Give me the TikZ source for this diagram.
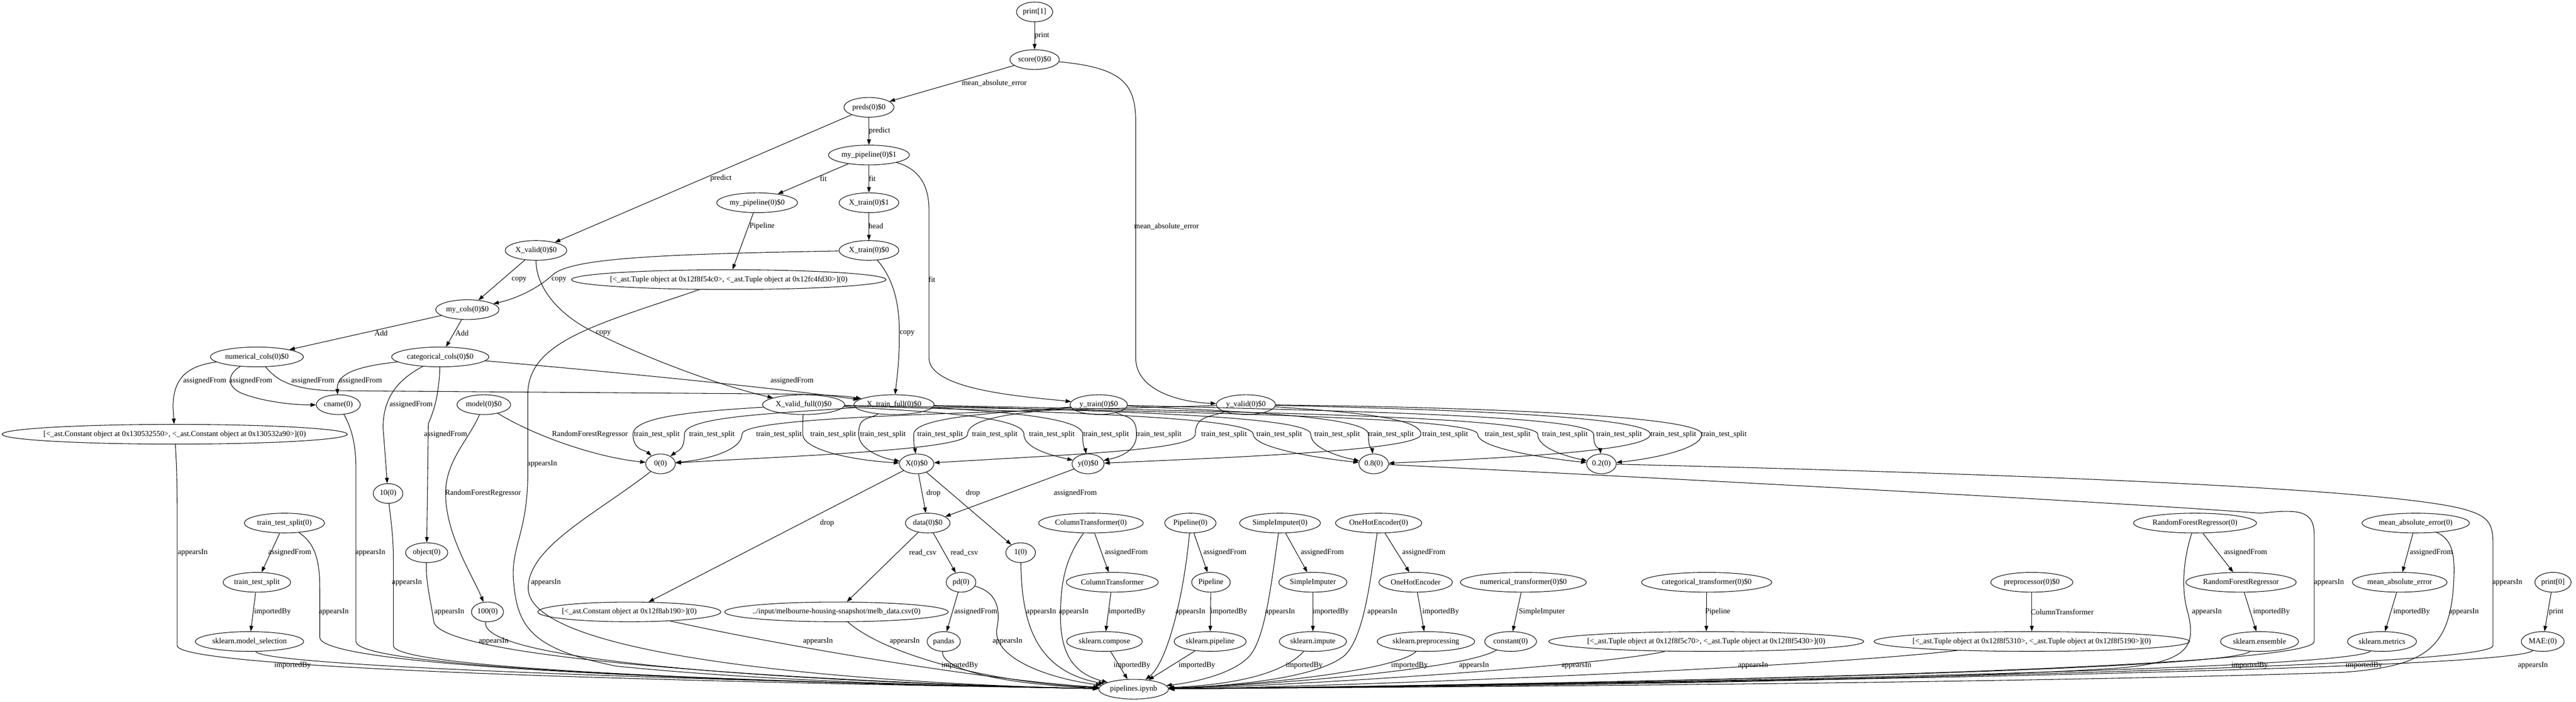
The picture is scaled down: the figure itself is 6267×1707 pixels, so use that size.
\documentclass[tikz,border=0pt]{standalone}
\usepackage{fontspec}
\setmainfont{Liberation Serif}
\usetikzlibrary{shapes.geometric,arrows.meta}
\newcommand\lb[4]{\node[lbl] (#1) at (#2,#3) {#4};}
% src, c1x, c1y, viax, c4x, c4y, tgt, labelx, labelname
\newcommand\ttsedge[9]{\draw[conn] (#1) .. controls (#2,#3) and (#4,1012) .. (#4,1056) .. controls (#4,1095) and (#5,#6) .. (#7);
\node[lbl] (#9) at (#8,1056) {train\_test\_split};}
\begin{document}
\begin{tikzpicture}[x=0.75pt,y=-0.75pt,
 nd/.style={ellipse,draw,line width=1pt,minimum height=36pt,minimum width=54pt,inner xsep=2pt,inner ysep=0pt,font=\fontsize{14}{16}\selectfont},
 wide/.style={inner xsep=-30pt,minimum width=#1},
 lbl/.style={inner sep=0pt,font=\fontsize{14}{16}\selectfont},
 conn/.style={draw,line width=1pt,-{Triangle[length=10pt,width=7pt]}}]
\fill[white] (0,0) rectangle (6267,1707);
\useasboundingbox (0,0) rectangle (6267,1707);
% ---------- nodes ----------
\node[nd] (print1) at (2517,29) {print[1]};
\node[nd] (score) at (2517,145) {score(0)\$0};
\node[nd] (preds) at (2114,261) {preds(0)\$0};
\node[nd] (mp1) at (2114,377) {my\_pipeline(0)\$1};
\node[nd] (xtr1) at (2114,493) {X\_train(0)\$1};
\node[nd] (mp0) at (1842,493) {my\_pipeline(0)\$0};
\node[nd] (xtr0) at (2114,609) {X\_train(0)\$0};
\node[nd] (xval) at (1304,609) {X\_valid(0)\$0};
\node[nd,wide=574pt] (tupA) at (1773,680) {[<\_ast.Tuple object at 0x12f8f54c0>, <\_ast.Tuple object at 0x12fc4fd30>](0)};
\node[nd] (mycols) at (1137,753) {my\_cols(0)\$0};
\node[nd] (numc) at (625,868) {numerical\_cols(0)\$0};
\node[nd] (catc) at (1071,868) {categorical\_cols(0)\$0};
\node[nd,wide=630pt] (constA) at (425,1056) {[<\_ast.Constant object at 0x130532550>, <\_ast.Constant object at 0x130532a90>](0)};
\node[nd] (cname) at (823,984) {cname(0)};
\node[nd] (model) at (1177,984) {model(0)\$0};
\node[nd] (xvf) at (1955,984) {X\_valid\_full(0)\$0};
\node[nd] (xtf) at (2175,984) {X\_train\_full(0)\$0};
\node[nd] (ytr) at (2673,984) {y\_train(0)\$0};
\node[nd] (yva) at (3031,984) {y\_valid(0)\$0};
\node[nd] (zero) at (1607,1128) {0(0)};
\node[nd] (X) at (2230,1128) {X(0)\$0};
\node[nd] (y) at (2647,1128) {y(0)\$0};
\node[nd] (p8) at (3342,1128) {0.8(0)};
\node[nd] (p2) at (3896,1128) {0.2(0)};
\node[nd] (ten) at (944,1200) {10(0)};
\node[nd] (tts0) at (692,1272) {train\_test\_split(0)};
\node[nd] (data) at (2257,1272) {data(0)\$0};
\node[nd] (CT0) at (2654,1272) {ColumnTransformer(0)};
\node[nd] (PL0) at (2896,1272) {Pipeline(0)};
\node[nd] (SI0) at (3114,1272) {SimpleImputer(0)};
\node[nd] (OH0) at (3354,1272) {OneHotEncoder(0)};
\node[nd] (RF0) at (5340,1272) {RandomForestRegressor(0)};
\node[nd] (MAE0) at (5877,1272) {mean\_absolute\_error(0)};
\node[nd] (obj) at (1038,1344) {object(0)};
\node[nd] (one) at (2483,1344) {1(0)};
\node[nd] (tts) at (625,1416) {train\_test\_split};
\node[nd] (pd) at (2338,1416) {pd(0)};
\node[nd] (CT) at (2706,1416) {ColumnTransformer};
\node[nd] (PL) at (2946,1416) {Pipeline};
\node[nd] (SI) at (3194,1416) {SimpleImputer};
\node[nd] (OH) at (3444,1416) {OneHotEncoder};
\node[nd] (numt) at (3706,1416) {numerical\_transformer(0)\$0};
\node[nd] (catt) at (4152,1416) {categorical\_transformer(0)\$0};
\node[nd] (prep) at (4943,1416) {preprocessor(0)\$0};
\node[nd] (RF) at (5452,1416) {RandomForestRegressor};
\node[nd] (MAE) at (5838,1416) {mean\_absolute\_error};
\node[nd] (print0) at (6211,1416) {print[0]};
\node[nd] (hundred) at (1186,1488) {100(0)};
\node[nd,wide=334pt] (constB) at (1531,1488) {[<\_ast.Constant object at 0x12f8ab190>](0)};
\node[nd,wide=408pt] (csv) at (2035,1488) {../input/melbourne-housing-snapshot/melb\_data.csv(0)};
\node[nd] (skms) at (607,1560) {sklearn.model\_selection};
\node[nd] (pandas) at (2296,1560) {pandas};
\node[nd] (skco) at (2687,1560) {sklearn.compose};
\node[nd] (skpl) at (2944,1560) {sklearn.pipeline};
\node[nd] (skim) at (3194,1560) {sklearn.impute};
\node[nd] (skpp) at (3469,1560) {sklearn.preprocessing};
\node[nd] (const) at (3675,1560) {constant(0)};
\node[nd,wide=575pt] (tupB) at (4151,1560) {[<\_ast.Tuple object at 0x12f8f5c70>, <\_ast.Tuple object at 0x12f8f5430>](0)};
\node[nd,wide=576pt] (tupC) at (4943,1560) {[<\_ast.Tuple object at 0x12f8f5310>, <\_ast.Tuple object at 0x12f8f5190>](0)};
\node[nd] (sken) at (5497,1560) {sklearn.ensemble};
\node[nd] (skme) at (5795,1560) {sklearn.metrics};
\node[nd] (MAEc) at (6186,1560) {MAE:(0)};
\node[nd] (pip) at (2758,1676) {pipelines.ipynb};
% ---------- top edges ----------
\draw[conn] (print1) -- (score); \lb{l1}{2535}{87}{print}
\draw[conn] (score) -- (preds); \lb{l2}{2419}{202}{mean\_absolute\_error}
\draw[conn] (score) .. controls (2740,165) and (2763,210) .. (2763,300) -- (2763,870) .. controls (2763,950) and (2870,978) .. (yva);
\lb{l3}{2838}{551}{mean\_absolute\_error}
\draw[conn] (preds) -- (mp1); \lb{l4}{2140}{318}{predict}
\draw[conn] (preds) -- (xval); \lb{l5}{1754}{434}{predict}
\draw[conn] (mp1) -- (xtr1); \lb{l6}{2122}{434}{fit}
\draw[conn] (mp1) -- (mp0); \lb{l7}{2003}{434}{fit}
\draw[conn] (mp1) .. controls (2235,410) and (2260,450) .. (2260,510) -- (2260,870) .. controls (2260,950) and (2500,965) .. (ytr);
\lb{l8}{2267}{680}{fit}
\draw[conn] (xtr1) -- (xtr0); \lb{l9}{2131}{550}{head}
\draw[conn] (mp0) -- (tupA); \lb{l10}{1854}{550}{Pipeline}
\draw[conn] (xval) -- (mycols); \lb{l11}{1263}{680}{copy}
\draw[conn] (xtr0) .. controls (1600,618) and (1390,628) .. (1345,668) .. controls (1310,700) and (1260,725) .. (mycols);
\lb{l12}{1360}{680}{copy}
\draw[conn] (xval) .. controls (1304,700) and (1360,765) .. (1440,805) .. controls (1600,885) and (1780,945) .. (xvf);
\lb{l13}{1468}{810}{copy}
\draw[conn] (xtr0) .. controls (2175,680) and (2188,740) .. (2188,810) .. controls (2188,880) and (2182,920) .. (xtf);
\lb{l14}{2207}{810}{copy}
\draw[conn] (tupA) .. controls (1450,790) and (1284,830) .. (1284,960) -- (1284,1150) .. controls (1284,1300) and (1240,1330) .. (1250,1420) .. controls (1260,1530) and (1300,1580) .. (1500,1620) .. controls (1900,1660) and (2350,1668) .. (pip);
\lb{l15}{1319}{1128}{appearsIn}
\draw[conn] (mycols) -- (numc); \lb{l16}{927}{810}{Add}
\draw[conn] (mycols) -- (catc); \lb{l17}{1124}{810}{Add}
% ---------- cols ----------
\draw[conn] (numc) .. controls (450,890) and (421,925) .. (421,990) -- (constA);
\lb{l18}{498}{926}{assignedFrom}
\draw[conn] (numc) .. controls (560,905) and (545,935) .. (585,955) .. controls (640,978) and (720,985) .. (cname);
\lb{l19}{610}{926}{assignedFrom}
\draw[conn] (numc) .. controls (670,920) and (700,945) .. (800,950) -- (1900,958) .. controls (2000,959) and (2060,963) .. (xtf);
\lb{l20}{761}{926}{assignedFrom}
\draw[conn] (catc) .. controls (880,890) and (818,905) .. (cname);
\lb{l21}{877}{926}{assignedFrom}
\draw[conn] (catc) .. controls (975,920) and (932,960) .. (932,1040) -- (ten);
\lb{l22}{1000}{984}{assignedFrom}
\draw[conn] (catc) .. controls (1068,950) and (1060,990) .. (1042,1030) -- (obj);
\lb{l23}{1084}{1056}{assignedFrom}
\draw[conn] (catc) .. controls (1500,905) and (1900,945) .. (xtf);
\lb{l24}{1927}{926}{assignedFrom}
\draw[conn] (model) .. controls (1300,1060) and (1450,1112) .. (zero);
\lb{l25}{1435}{1056}{RandomForestRegressor}
\draw[conn] (model) .. controls (1140,1070) and (1084,1120) .. (1084,1200) .. controls (1084,1300) and (1150,1400) .. (hundred);
\lb{l26}{1175}{1200}{RandomForestRegressor}
% ---------- train_test_split bundle ----------
\ttsedge{xvf}{1700}{1000}{1540}{1570}{1095}{zero}{1598}{t1}
\ttsedge{xtf}{1900}{1005}{1665}{1650}{1095}{zero}{1732}{t2}
\ttsedge{yva}{2400}{1003}{1805}{1720}{1118}{zero}{1895}{t3}
\ttsedge{ytr}{2500}{1003}{2354}{1900}{1110}{zero}{2420}{t4}
\ttsedge{xvf}{1953}{1030}{1953}{2080}{1120}{X}{2027}{t5}
\ttsedge{xtf}{2110}{1022}{2089}{2150}{1115}{X}{2148}{t6}
\ttsedge{ytr}{2450}{1003}{2223}{2226}{1090}{X}{2287}{t7}
\ttsedge{yva}{2940}{1015}{2908}{2600}{1105}{X}{2978}{t8}
\ttsedge{xvf}{2250}{1000}{2491}{2580}{1112}{y}{2559}{t9}
\ttsedge{xtf}{2400}{1000}{2634}{2640}{1090}{y}{2691}{t10}
\ttsedge{ytr}{2740}{1015}{2765}{2730}{1110}{y}{2819}{t11}
\ttsedge{yva}{3250}{1000}{3457}{3000}{1112}{y}{3516}{t12}
\ttsedge{xvf}{2500}{1000}{3049}{3260}{1120}{p8}{3112}{t13}
\ttsedge{xtf}{2700}{1000}{3189}{3280}{1115}{p8}{3253}{t14}
\ttsedge{ytr}{3000}{1000}{3329}{3338}{1090}{p8}{3384}{t15}
\ttsedge{yva}{3500}{995}{4015}{3700}{1112}{p8}{4071}{t16}
\ttsedge{xvf}{2800}{1000}{3595}{3810}{1120}{p2}{3668}{t17}
\ttsedge{xtf}{2950}{1000}{3741}{3835}{1115}{p2}{3807}{t18}
\ttsedge{ytr}{3300}{1000}{3877}{3893}{1090}{p2}{3939}{t19}
\ttsedge{yva}{3600}{990}{4140}{4000}{1118}{p2}{4194}{t20}
% ---------- middle edges ----------
\draw[conn] (X) -- (constB); \lb{l27}{2012}{1272}{drop}
\draw[conn] (X) -- (data); \lb{l28}{2271}{1200}{drop}
\draw[conn] (X) -- (one); \lb{l29}{2367}{1200}{drop}
\draw[conn] (y) -- (data); \lb{l30}{2616}{1200}{assignedFrom}
\draw[conn] (data) -- (csv); \lb{l31}{2245}{1344}{read\_csv}
\draw[conn] (data) -- (pd); \lb{l32}{2346}{1344}{read\_csv}
\draw[conn] (pd) -- (pandas); \lb{l33}{2374}{1488}{assignedFrom}
\draw[conn] (tts0) -- (tts); \lb{l34}{705}{1344}{assignedFrom}
\draw[conn] (tts) -- (skms); \lb{l35}{663}{1488}{importedBy}
\draw[conn] (CT0) -- (CT); \lb{l36}{2740}{1344}{assignedFrom}
\draw[conn] (CT) -- (skco); \lb{l37}{2742}{1488}{importedBy}
\draw[conn] (PL0) -- (PL); \lb{l38}{2980}{1344}{assignedFrom}
\draw[conn] (PL) -- (skpl); \lb{l39}{2990}{1488}{importedBy}
\draw[conn] (SI0) -- (SI); \lb{l40}{3217}{1344}{assignedFrom}
\draw[conn] (SI) -- (skim); \lb{l41}{3237}{1488}{importedBy}
\draw[conn] (OH0) -- (OH); \lb{l42}{3464}{1344}{assignedFrom}
\draw[conn] (OH) -- (skpp); \lb{l43}{3505}{1488}{importedBy}
\draw[conn] (numt) -- (const); \lb{l44}{3751}{1488}{SimpleImputer}
\draw[conn] (catt) -- (tupB); \lb{l45}{4179}{1488}{Pipeline}
\draw[conn] (prep) -- (tupC); \lb{l46}{5017}{1488}{ColumnTransformer}
\draw[conn] (RF0) -- (RF); \lb{l47}{5463}{1344}{assignedFrom}
\draw[conn] (RF) -- (sken); \lb{l48}{5526}{1488}{importedBy}
\draw[conn] (MAE0) -- (MAE); \lb{l49}{5915}{1344}{assignedFrom}
\draw[conn] (MAE) -- (skme); \lb{l50}{5867}{1488}{importedBy}
\draw[conn] (print0) -- (MAEc); \lb{l51}{6219}{1488}{print}
% ---------- into pipelines.ipynb from the left ----------
\draw[conn] (constA) .. controls (431,1150) and (431,1200) .. (431,1300) -- (431,1570) .. controls (431,1640) and (2300,1668) .. (pip);
\lb{l52}{469}{1344}{appearsIn}
\draw[conn] (tts0) .. controls (765,1320) and (778,1360) .. (778,1430) -- (778,1550) .. controls (778,1640) and (2300,1668) .. (pip);
\lb{l53}{812}{1488}{appearsIn}
\draw[conn] (skms) .. controls (650,1630) and (2300,1668) .. (pip);
\lb{l54}{712}{1618}{importedBy}
\draw[conn] (cname) .. controls (855,1040) and (866,1080) .. (866,1140) -- (866,1560) .. controls (866,1640) and (2300,1668) .. (pip);
\lb{l55}{901}{1344}{appearsIn}
\draw[conn] (ten) .. controls (950,1260) and (957,1300) .. (957,1360) -- (957,1570) .. controls (957,1640) and (2300,1668) .. (pip);
\lb{l56}{990}{1416}{appearsIn}
\draw[conn] (obj) .. controls (1036,1420) and (1048,1460) .. (1055,1510) .. controls (1065,1620) and (2300,1668) .. (pip);
\lb{l57}{1093}{1488}{appearsIn}
\draw[conn] (hundred) .. controls (1160,1630) and (2300,1668) .. (pip);
\lb{l58}{1201}{1560}{appearsIn}
\draw[conn] (zero) .. controls (1450,1250) and (1285,1330) .. (1285,1430) .. controls (1285,1620) and (2300,1668) .. (pip);
\lb{l59}{1328}{1416}{appearsIn}
\draw[conn] (constB) .. controls (1900,1570) and (2400,1655) .. (pip);
\lb{l60}{1990}{1560}{appearsIn}
\draw[conn] (csv) .. controls (2150,1590) and (2400,1660) .. (pip);
\lb{l61}{2201}{1560}{appearsIn}
\draw[conn] (pandas) .. controls (2288,1630) and (2450,1665) .. (pip);
\lb{l62}{2335}{1618}{importedBy}
\draw[conn] (pd) .. controls (2425,1440) and (2435,1480) .. (2425,1530) .. controls (2415,1600) and (2550,1650) .. (pip);
\lb{l63}{2451}{1560}{appearsIn}
\draw[conn] (one) .. controls (2486,1500) and (2510,1630) .. (pip);
\lb{l64}{2533}{1488}{appearsIn}
\draw[conn] (CT0) .. controls (2590,1360) and (2580,1420) .. (2580,1500) .. controls (2580,1600) and (2620,1640) .. (pip);
\lb{l65}{2612}{1488}{appearsIn}
\draw[conn] (skco) -- (pip); \lb{l66}{2754}{1618}{importedBy}
% ---------- into pipelines.ipynb from the right ----------
\draw[conn] (PL0) .. controls (2880,1450) and (2840,1610) .. (pip);
\lb{l67}{2896}{1488}{appearsIn}
\draw[conn] (skpl) -- (pip); \lb{l68}{2912}{1618}{importedBy}
\draw[conn] (SI0) .. controls (3095,1400) and (3080,1550) .. (3040,1595) .. controls (3000,1640) and (2900,1660) .. (pip);
\lb{l69}{3114}{1488}{appearsIn}
\draw[conn] (skim) .. controls (3120,1640) and (3000,1665) .. (pip);
\lb{l70}{3173}{1618}{importedBy}
\draw[conn] (OH0) .. controls (3335,1400) and (3320,1550) .. (3270,1595) .. controls (3200,1650) and (3000,1668) .. (pip);
\lb{l71}{3363}{1488}{appearsIn}
\draw[conn] (skpp) .. controls (3400,1630) and (3050,1668) .. (pip);
\lb{l72}{3429}{1618}{importedBy}
\draw[conn] (const) .. controls (3560,1630) and (3050,1668) .. (pip);
\lb{l73}{3586}{1618}{appearsIn}
\draw[conn] (tupB) .. controls (3900,1620) and (3100,1670) .. (pip);
\lb{l74}{3835}{1618}{appearsIn}
\draw[conn] (tupC) .. controls (4400,1625) and (3200,1672) .. (pip);
\lb{l75}{4265}{1618}{appearsIn}
\draw[conn] (RF0) .. controls (5315,1350) and (5305,1420) .. (5320,1480) .. controls (5345,1570) and (5330,1610) .. (5150,1625) .. controls (4500,1665) and (3200,1672) .. (pip);
\lb{l76}{5369}{1488}{appearsIn}
\draw[conn] (sken) .. controls (5420,1640) and (3200,1672) .. (pip);
\lb{l77}{5473}{1618}{importedBy}
\draw[conn] (p8) .. controls (4200,1170) and (5200,1225) .. (5500,1248) .. controls (5590,1238) and (5630,1240) .. (5630,1300) -- (5630,1560) .. controls (5630,1640) and (3200,1672) .. (pip);
\lb{l78}{5666}{1416}{appearsIn}
\draw[conn] (skme) .. controls (5700,1640) and (3200,1672) .. (pip);
\lb{l79}{5751}{1618}{importedBy}
\draw[conn] (MAE0) .. controls (5962,1310) and (5972,1340) .. (5970,1400) .. controls (5965,1580) and (5900,1620) .. (5700,1635) .. controls (4800,1665) and (3200,1672) .. (pip);
\lb{l80}{5994}{1488}{appearsIn}
\draw[conn] (p2) .. controls (4600,1145) and (5800,1180) .. (6000,1240) .. controls (6050,1255) and (6065,1270) .. (6065,1320) -- (6065,1570) .. controls (6065,1640) and (3200,1672) .. (pip);
\lb{l81}{6100}{1416}{appearsIn}
\draw[conn] (MAEc) .. controls (6100,1640) and (3200,1672) .. (pip);
\lb{l82}{6162}{1618}{appearsIn}
\end{tikzpicture}
\end{document}
